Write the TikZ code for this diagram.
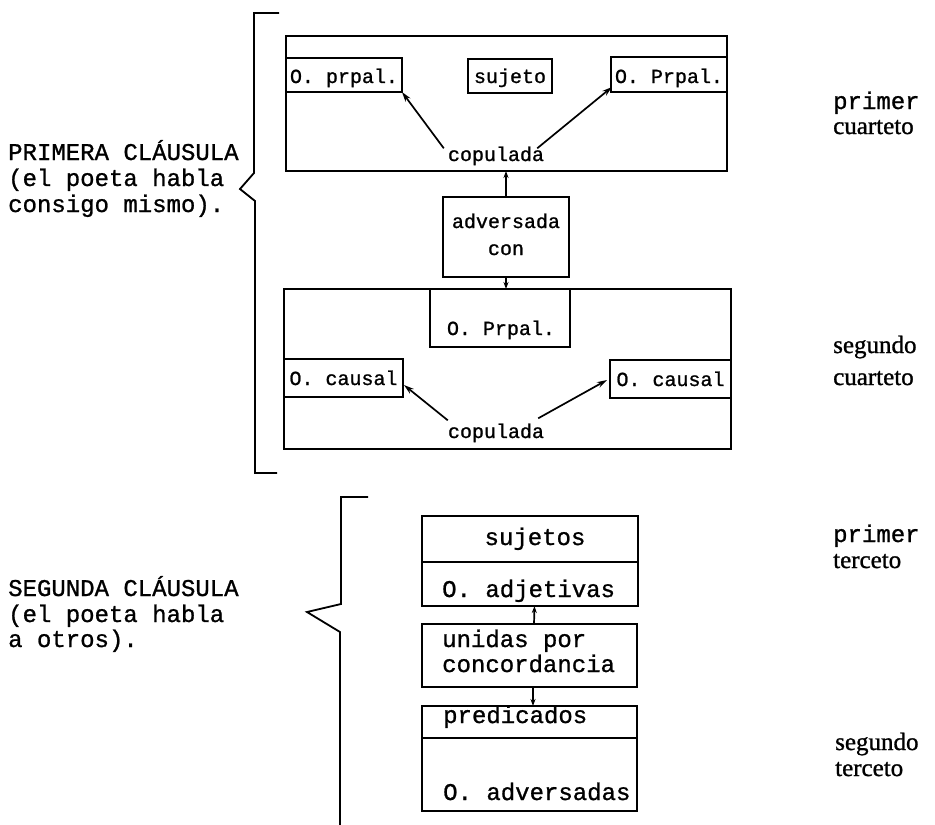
\documentclass[tikz,border=0pt]{standalone}
\usepackage{fontspec}
\newfontfamily\monof[FakeBold=1]{Liberation Mono}
\newfontfamily\serf[FakeBold=1]{Liberation Serif}
\usetikzlibrary{arrows.meta}
\begin{document}
\begin{tikzpicture}[x=1pt,y=-1pt,
  ln/.style={line width=1.8pt, line join=miter},
  bx/.style={draw, line width=1.8pt, inner sep=0pt, outer sep=0pt, anchor=north west},
  sm/.style={font=\monof\fontsize{20}{26}\selectfont, inner sep=0pt, anchor=base},
  lg/.style={font=\monof\fontsize{24}{25}\selectfont, inner sep=0pt, anchor=base west},
  sf/.style={font=\serf\fontsize{25}{26}\selectfont, inner sep=0pt, anchor=base west},
  arr/.style={line width=1.7pt, -{Stealth[length=10pt,width=6pt]}},
  arv/.style={line width=1.7pt, -{Stealth[length=7pt,width=5pt]}}
]
\useasboundingbox (0,0) rectangle (935,825);

% ---------- brackets ----------
\draw[ln] (279,13) -- (254,13) -- (254,173) -- (240,189) -- (255,201) -- (255,473) -- (277,473);
\draw[ln] (368,497) -- (341,497) -- (341,604) -- (307,612) -- (340,632) -- (340,825);

% ---------- left labels ----------
\node[lg] (pc1) at (8,160) {PRIMERA CLÁUSULA};
\node[lg] (pc2) at (8,186) {(el poeta habla};
\node[lg] (pc3) at (8,212) {consigo mismo).};
\node[lg] (sc1) at (8,596) {SEGUNDA CLÁUSULA};
\node[lg] (sc2) at (8,622) {(el poeta habla};
\node[lg] (sc3) at (8,647) {a otros).};

% ---------- right labels ----------
\node[lg] (r1) at (833,109) {primer};
\node[sf] (r2) at (833,134) {cuarteto};
\node[sf] (r3) at (833,353) {segundo};
\node[sf] (r4) at (833,385) {cuarteto};
\node[lg] (r5) at (833,542) {primer};
\node[sf] (r6) at (833,568) {terceto};
\node[sf] (r7) at (835,750) {segundo};
\node[sf] (r8) at (835,776) {terceto};

% ---------- first quartet ----------
\node[bx, minimum width=441pt, minimum height=135pt] (box1) at (286,36) {};
\node[bx, minimum width=116pt, minimum height=34pt] (pL) at (286,58) {};
\node[bx, minimum width=84pt, minimum height=34pt] (suj) at (468,59) {};
\node[bx, minimum width=116pt, minimum height=35pt] (pR) at (611,57) {};
\node[sm] (tpL) at (344,83) {O. prpal.};
\node[sm] (tsuj) at (510,83) {sujeto};
\node[sm] (tpR) at (669,83) {O. Prpal.};
\node[sm] (cop1) at (496,161) {copulada};
\draw[arr] ([shift={(-4,2)}]cop1.north west) -- (pL.south east);
\draw[arr] ([shift={(-7,2)}]cop1.north east) -- ([shift={(1,-5)}]pR.south west);

% ---------- adversada ----------
\node[bx, minimum width=126pt, minimum height=80pt] (adv) at (443,197) {};
\node[sm] (tadv1) at (506,228) {adversada};
\node[sm] (tadv2) at (506,255) {con};
\draw[arv] (adv.north) -- (adv.north |- box1.south);

% ---------- second quartet ----------
\node[bx, minimum width=447pt, minimum height=160pt] (box2) at (284,289) {};
\draw[arv] (adv.south) -- (adv.south |- box2.north);
\node[bx, minimum width=140pt, minimum height=58pt] (pC) at (430,289) {};
\node[sm] (tpC) at (501,335) {O. Prpal.};
\node[bx, minimum width=119pt, minimum height=38pt] (cL) at (284,359) {};
\node[bx, minimum width=121pt, minimum height=38pt] (cR) at (610,360) {};
\node[sm] (tcL) at (343.5,385) {O. causal};
\node[sm] (tcR) at (670.5,386) {O. causal};
\node[sm] (cop2) at (496,438) {copulada};
\draw[arr] ([shift={(0,-3)}]cop2.north west) -- ([shift={(1,7)}]cL.east);
\draw[arr] ([shift={(-6,-5)}]cop2.north east) -- ([shift={(-3,1)}]cR.west);

% ---------- tercets ----------
\node[bx, minimum width=216pt, minimum height=46pt] (sjs) at (422,516) {};
\node[bx, minimum width=216pt, minimum height=44pt] (adj) at (422,562) {};
\node[sm, font=\monof\fontsize{24}{25}\selectfont] (tsjs) at (535,545) {sujetos};
\node[lg] (tadj) at (442,597) {O. adjetivas};
\node[bx, minimum width=215pt, minimum height=63pt] (uni) at (422,624) {};
\node[lg] (tuni1) at (442,647) {unidas por};
\node[lg] (tuni2) at (442,672) {concordancia};
\draw[arv] ([xshift=4.5pt]uni.north) -- ([xshift=4.5pt]adj.south);
\node[bx, minimum width=215pt, minimum height=32pt] (pred) at (422,706) {};
\node[bx, minimum width=215pt, minimum height=73pt] (advs) at (422,738) {};
\node[lg] (tpred) at (443,723) {predicados};
\node[lg] (tadvs) at (443,800) {O. adversadas};
\draw[arv] ([xshift=3.5pt]uni.south) -- ([xshift=3.5pt]pred.north);
\end{tikzpicture}
\end{document}
